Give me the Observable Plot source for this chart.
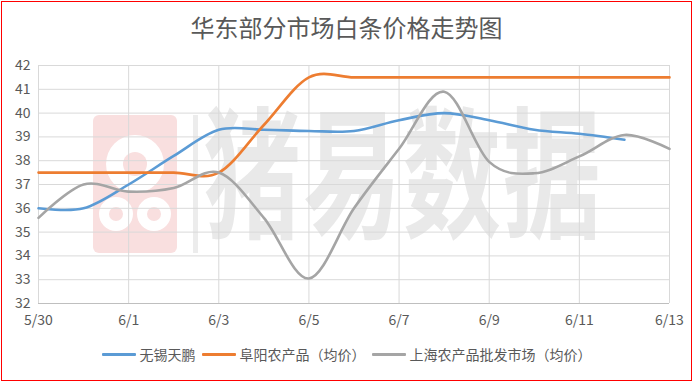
<!DOCTYPE html>
<html><head><meta charset="utf-8">
<script src="https://cdn.jsdelivr.net/npm/d3@7"></script>
<script src="https://cdn.jsdelivr.net/npm/@observablehq/plot@0.6"></script>
<style>
body{margin:0;background:#fff;}
#wrap{position:relative;width:693px;height:382px;overflow:hidden;font-family:"Noto Sans CJK SC","Noto Sans",sans-serif;background:#fff;}
#chart{position:absolute;left:0;top:0;}
#title{position:absolute;left:0;top:10px;width:693px;text-align:center;font-size:24px;color:#595959;line-height:34px;}
#legend{position:absolute;left:0;top:343px;width:693px;display:flex;justify-content:center;align-items:center;font-size:14px;color:#595959;line-height:22px;}
#legend .item{display:flex;align-items:center;margin:0 3px;}
#legend .sw{width:34px;height:3px;margin-right:4px;border-radius:1px;}
#frame{position:absolute;left:1px;top:1px;width:689px;height:378px;border:1px solid #ff0000;}
#wm{position:absolute;left:0;top:0;width:693px;height:382px;}
#wm .badge{position:absolute;left:93px;top:115px;width:84px;height:138px;background:#f9dfdf;border-radius:6px;overflow:hidden;}
#wm .c{position:absolute;border-radius:50%;background:#fff;}
#wm .d{position:absolute;border-radius:50%;background:#f9dfdf;}
#wm .bar{position:absolute;left:193px;top:115px;width:5px;height:138px;background:#ececec;}
#wm .txt{position:absolute;left:203px;top:92px;font-size:98px;font-weight:bold;color:#e9e9e9;line-height:100px;transform:scaleY(1.45);transform-origin:top left;letter-spacing:2px;white-space:nowrap;}
</style></head><body>
<div id="wrap">
  <div id="wm">
    <div class="badge">
      <div class="c" style="left:13px;top:20px;width:58px;height:58px;"></div>
      <div class="d" style="left:30px;top:37px;width:24px;height:24px;"></div>
      <div class="c" style="left:6px;top:82px;width:34px;height:34px;"></div>
      <div class="c" style="left:44px;top:82px;width:34px;height:34px;"></div>
      <div class="d" style="left:16px;top:92px;width:14px;height:14px;"></div>
      <div class="d" style="left:54px;top:92px;width:14px;height:14px;"></div>
    </div>
    <div class="bar"></div>
    <div class="txt">猪易数据</div>
  </div>
  <div id="chart"></div>
  <div id="title">华东部分市场白条价格走势图</div>
  <div id="legend"></div>
  <div id="frame"></div>
</div>
<script>
const dates = ["5/30","5/31","6/1","6/2","6/3","6/4","6/5","6/6","6/7","6/8","6/9","6/10","6/11","6/12","6/13"];
const seriesNames = ["无锡天鹏","阜阳农产品（均价）","上海农产品批发市场（均价）"];
const wuxi = [36.0,36.0,37.0,38.2,39.3,39.3,39.25,39.25,39.7,40.0,39.7,39.3,39.13,38.88,null];
const fuyang = [37.5,37.5,37.5,37.5,37.5,39.5,41.5,41.5,41.5,41.5,41.5,41.5,41.5,41.5,41.5];
const shanghai = [35.6,37.0,36.7,36.85,37.5,35.6,33.05,36.0,38.5,40.9,37.95,37.47,38.18,39.08,38.5];
const colors = ["#5B9BD5","#ED7D31","#A5A5A5"];
const yTicks = [32,33,34,35,36,37,38,39,40,41,42];

const seriesValues = [wuxi, fuyang, shanghai];
const rows = [];
seriesValues.forEach((vals, k) => {
  vals.forEach((v, i) => { if (v != null) rows.push({i, v, s: seriesNames[k]}); });
});
const xTickIdx = dates.map((d, i) => i).filter(i => i % 2 === 0);

const chart = Plot.plot({
  width: 693, height: 382,
  marginTop: 65, marginBottom: 79, marginLeft: 38, marginRight: 24,
  style: {background: "transparent", fontFamily: '"Noto Sans CJK SC","Noto Sans",sans-serif', fontSize: "14px", color: "#595959"},
  x: {domain: [0, dates.length - 1]},
  y: {domain: [32, 42]},
  color: {domain: seriesNames, range: colors},
  marks: [
    Plot.gridX(xTickIdx, {stroke: "#d9d9d9", strokeOpacity: 1}),
    Plot.gridY(yTicks, {stroke: "#d9d9d9", strokeOpacity: 1}),
    Plot.ruleY([32], {stroke: "#bfbfbf"}),
    Plot.axisX({ticks: xTickIdx, tickFormat: i => dates[i], tickSize: 0, tickPadding: 12, label: null, fill: "#595959"}),
    Plot.axisY({ticks: yTicks, tickSize: 0, tickPadding: 8, label: null, fill: "#595959"}),
    Plot.line(rows, {x: "i", y: "v", z: "s", stroke: "s", curve: "cardinal", tension: 0, strokeWidth: 2.6, strokeLinecap: "round"})
  ]
});
document.getElementById("chart").appendChild(chart);

const legend = document.getElementById("legend");
seriesNames.forEach((n, k) => {
  const it = document.createElement("div");
  it.className = "item";
  const sw = document.createElement("div");
  sw.className = "sw";
  sw.style.background = colors[k];
  const t = document.createElement("span");
  t.textContent = n;
  it.appendChild(sw); it.appendChild(t);
  legend.appendChild(it);
});
</script>
</body></html>
